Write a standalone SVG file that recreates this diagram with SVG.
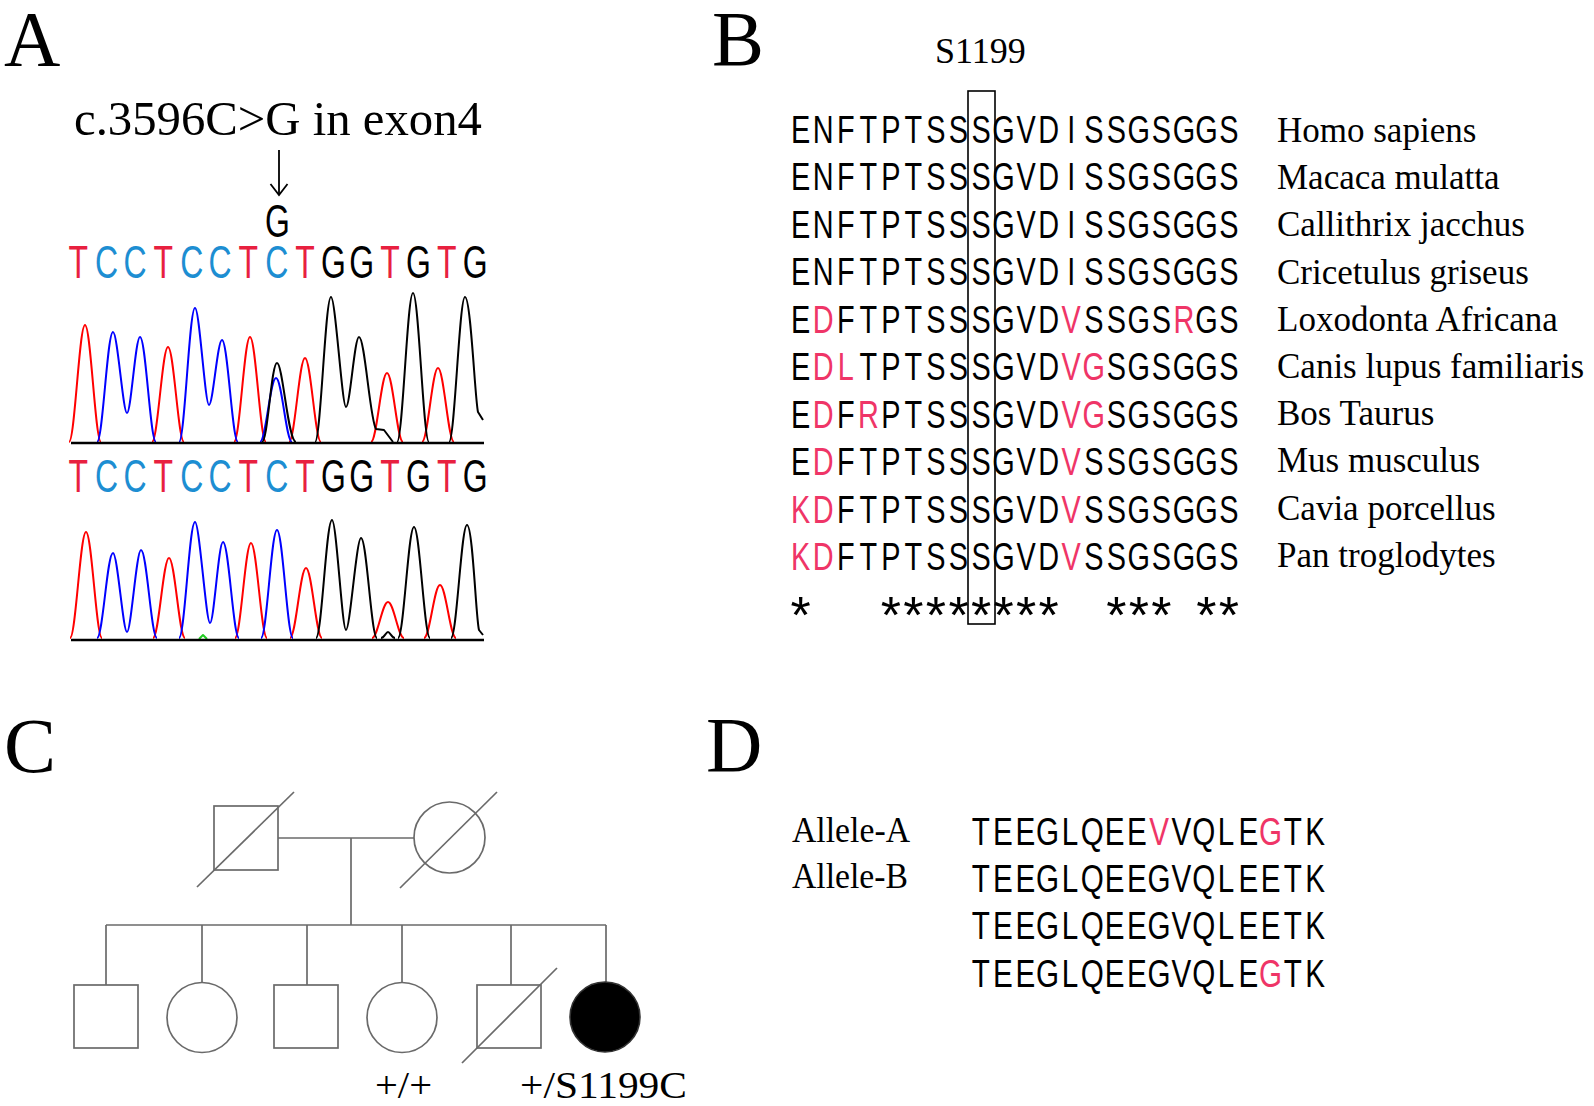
<svg xmlns="http://www.w3.org/2000/svg" width="1594" height="1106" viewBox="0 0 1594 1106">
<style>
.lbl{font-family:"Liberation Serif","Times New Roman",serif;font-size:78px;fill:#000}
.ser{font-family:"Liberation Serif","Times New Roman",serif;fill:#000}
.seq{font-family:"Liberation Sans",Arial,sans-serif;text-anchor:middle;fill:#000}
.rT{fill:#e8203f}.bC{fill:#1d8ed2}.pk{fill:#ef3567}
.tr{fill:none;stroke-width:2;stroke-linejoin:round}
.red{stroke:#ff0000}.blu{stroke:#0000ff}.blk{stroke:#000}
.ped{fill:none;stroke:#6a6a6a;stroke-width:1.7}
</style>
<rect width="1594" height="1106" fill="#fff"/>

<!-- Panel A -->
<g id="panelA">
<text class="lbl" x="4" y="65">A</text>
<text class="ser" x="74" y="135" font-size="48" textLength="408" lengthAdjust="spacingAndGlyphs">c.3596C&gt;G in exon4</text>
<g id="arrow" stroke="#000" stroke-width="1.8" fill="none">
<line x1="279" y1="150" x2="279" y2="194"/>
<polyline points="270.5,184 279,195 287.5,184"/>
</g>
<text class="seq" transform="scale(0.68,1)" x="408.1" y="237" font-size="47">G</text>
<text class="seq" transform="scale(0.68,1)" y="278" font-size="47" x="115.1 156.8 198.5 240.1 281.9 323.5 365.1 406.9 448.5 490.3 531.9 573.5 615.3 656.9 698.7"><tspan class="rT">T</tspan><tspan class="bC">CC</tspan><tspan class="rT">T</tspan><tspan class="bC">CC</tspan><tspan class="rT">T</tspan><tspan class="bC">C</tspan><tspan class="rT">T</tspan>GG<tspan class="rT">T</tspan>G<tspan class="rT">T</tspan>G</text>
<text class="seq" transform="scale(0.68,1)" y="492" font-size="47" x="115.1 156.8 198.5 240.1 281.9 323.5 365.1 406.9 448.5 490.3 531.9 573.5 615.3 656.9 698.7"><tspan class="rT">T</tspan><tspan class="bC">CC</tspan><tspan class="rT">T</tspan><tspan class="bC">CC</tspan><tspan class="rT">T</tspan><tspan class="bC">C</tspan><tspan class="rT">T</tspan>GG<tspan class="rT">T</tspan>G<tspan class="rT">T</tspan>G</text>

<g id="chromatogram-top">
<path class="tr red" d="M69,442 C74.8,442 79.2,325 85,325 C90.8,325 95.2,442 101,442"/>
<path class="tr red" d="M152,442 C157.8,442 162.2,347 168,347 C173.8,347 178.2,442 184,442"/>
<path class="tr red" d="M234,442 C239.8,442 244.2,337 250,337 C255.8,337 260.2,442 266,442"/>
<path class="tr red" d="M289,442 C294.8,442 299.2,358 305,358 C310.8,358 315.2,442 321,442"/>
<path class="tr red" d="M371,442 C376.8,442 381.2,373 387,373 C392.8,373 397.2,442 403,442"/>
<path class="tr red" d="M422,442 C427.8,442 432.2,368 438,368 C443.8,368 448.2,442 454,442"/>
<path class="tr blu" d="M97,442 C102.8,442 107.2,332 113,332 C117.5,332 123,413 127,413 C131,413 135.5,337 140,337 C145.8,337 150.2,442 156,442"/>
<path class="tr blu" d="M179,442 C184.8,442 189.2,308 195,308 C199.5,308 205,405 209,405 C213,405 217.5,340 222,340 C227.8,340 232.2,442 238,442"/>
<path class="tr blu" d="M260,442 C265.8,442 270.2,378 276,378 C281.8,378 286.2,442 292,442"/>
<path class="tr blk" d="M262,442 C267.8,442 271.2,363 277,363 C282.8,363 288,442 296,442"/>
<path class="tr blk" d="M315,442 C320.8,442 325.2,297 331,297 C335.5,297 342,407 346,407 C350,407 354.5,337 359,337 C364.8,337 370,420 376,429 L384,430 L393,442"/>
<path class="tr blk" d="M397,442 C402.8,442 407.2,293 413,293 C418.8,293 423.2,442 429,442"/>
<path class="tr blk" d="M449,442 C454.8,442 459.2,297 465,297 C470.8,297 475,400 478,412 L483,420"/>
<line x1="71" y1="443" x2="484" y2="443" stroke="#000" stroke-width="2.5"/>
</g>

<g id="chromatogram-bottom">
<path class="tr red" d="M70,638 C75.8,638 80.2,532 86,532 C91.8,532 96.2,638 102,638"/>
<path class="tr red" d="M153,638 C158.8,638 163.2,558 169,558 C174.8,558 179.2,638 185,638"/>
<path class="tr red" d="M235,638 C240.8,638 245.2,543 251,543 C256.8,543 261.2,638 267,638"/>
<path class="tr red" d="M290,638 C295.8,638 300.2,568 306,568 C311.8,568 316.2,638 322,638"/>
<path class="tr red" d="M372,638 C377.8,638 382.2,602 388,602 C393.8,602 398.2,638 404,638"/>
<path class="tr red" d="M424,638 C429.8,638 434.2,585 440,585 C445.8,585 450.2,638 456,638"/>
<path class="tr blu" d="M97,638 C102.8,638 107.2,553 113,553 C117.5,553 123,632 127,632 C131,632 136.5,550 141,550 C146.8,550 151.2,638 157,638"/>
<path class="tr blu" d="M179,638 C184.8,638 189.2,522 195,522 C199.5,522 206,623 210,623 C214,623 218.5,542 223,542 C228.8,542 233.2,638 239,638"/>
<path class="tr blu" d="M261,638 C266.8,638 271.2,530 277,530 C282.8,530 287.2,638 293,638"/>
<path class="tr blk" d="M316,638 C321.8,638 326.2,520 332,520 C336.5,520 342,630 346,630 C350,630 356.5,538 361,538 C366.8,538 371.2,638 377,638"/>
<path class="tr blk" d="M381,638 C384,638 386,632 388,632 C390,632 392,638 395,638"/>
<path class="tr blk" d="M398,638 C403.8,638 408.2,527 414,527 C419.8,527 424.2,638 430,638"/>
<path class="tr blk" d="M451,638 C456.8,638 461.2,525 467,525 C472.8,525 476,620 479,630 L483,635"/>
<path class="tr" stroke="#22cc22" stroke-width="1.5" d="M199,639 L203,635 L207,639"/>
<line x1="71" y1="640" x2="484" y2="640" stroke="#000" stroke-width="2.5"/>
</g>
</g>

<!-- Panel B -->
<g id="panelB">
<text class="lbl" x="712" y="65">B</text>
<text class="ser" x="935" y="63" font-size="36">S1199</text>
<rect x="968" y="91" width="27" height="533" fill="none" stroke="#000" stroke-width="1.6"/>
<g class="seq" font-size="38" transform="scale(0.76,1)">
<text y="143" x="1053.6 1083.2 1112.9 1142.6 1172.2 1201.9 1231.5 1261.2 1290.9 1320.5 1350.2 1379.8 1409.5 1439.2 1468.8 1498.5 1528.1 1557.8 1587.4 1617.1">ENFTPTSSSGVDISSGSGGS</text>
<text y="190.5" x="1053.6 1083.2 1112.9 1142.6 1172.2 1201.9 1231.5 1261.2 1290.9 1320.5 1350.2 1379.8 1409.5 1439.2 1468.8 1498.5 1528.1 1557.8 1587.4 1617.1">ENFTPTSSSGVDISSGSGGS</text>
<text y="238" x="1053.6 1083.2 1112.9 1142.6 1172.2 1201.9 1231.5 1261.2 1290.9 1320.5 1350.2 1379.8 1409.5 1439.2 1468.8 1498.5 1528.1 1557.8 1587.4 1617.1">ENFTPTSSSGVDISSGSGGS</text>
<text y="285.5" x="1053.6 1083.2 1112.9 1142.6 1172.2 1201.9 1231.5 1261.2 1290.9 1320.5 1350.2 1379.8 1409.5 1439.2 1468.8 1498.5 1528.1 1557.8 1587.4 1617.1">ENFTPTSSSGVDISSGSGGS</text>
<text y="333" x="1053.6 1083.2 1112.9 1142.6 1172.2 1201.9 1231.5 1261.2 1290.9 1320.5 1350.2 1379.8 1409.5 1439.2 1468.8 1498.5 1528.1 1557.8 1587.4 1617.1">E<tspan class="pk">D</tspan>FTPTSSSGVD<tspan class="pk">V</tspan>SSGS<tspan class="pk">R</tspan>GS</text>
<text y="380.5" x="1053.6 1083.2 1112.9 1142.6 1172.2 1201.9 1231.5 1261.2 1290.9 1320.5 1350.2 1379.8 1409.5 1439.2 1468.8 1498.5 1528.1 1557.8 1587.4 1617.1">E<tspan class="pk">DL</tspan>TPTSSSGVD<tspan class="pk">VG</tspan>SGSGGS</text>
<text y="428" x="1053.6 1083.2 1112.9 1142.6 1172.2 1201.9 1231.5 1261.2 1290.9 1320.5 1350.2 1379.8 1409.5 1439.2 1468.8 1498.5 1528.1 1557.8 1587.4 1617.1">E<tspan class="pk">D</tspan>F<tspan class="pk">R</tspan>PTSSSGVD<tspan class="pk">VG</tspan>SGSGGS</text>
<text y="475.5" x="1053.6 1083.2 1112.9 1142.6 1172.2 1201.9 1231.5 1261.2 1290.9 1320.5 1350.2 1379.8 1409.5 1439.2 1468.8 1498.5 1528.1 1557.8 1587.4 1617.1">E<tspan class="pk">D</tspan>FTPTSSSGVD<tspan class="pk">V</tspan>SSGSGGS</text>
<text y="523" x="1053.6 1083.2 1112.9 1142.6 1172.2 1201.9 1231.5 1261.2 1290.9 1320.5 1350.2 1379.8 1409.5 1439.2 1468.8 1498.5 1528.1 1557.8 1587.4 1617.1"><tspan class="pk">KD</tspan>FTPTSSSGVD<tspan class="pk">V</tspan>SSGSGGS</text>
<text y="570" x="1053.6 1083.2 1112.9 1142.6 1172.2 1201.9 1231.5 1261.2 1290.9 1320.5 1350.2 1379.8 1409.5 1439.2 1468.8 1498.5 1528.1 1557.8 1587.4 1617.1"><tspan class="pk">KD</tspan>FTPTSSSGVD<tspan class="pk">V</tspan>SSGSGGS</text>
</g>
<text class="seq" font-size="52" y="633" x="800.7 890.9 913.4 935.9 958.5 981.0 1003.6 1026.1 1048.6 1116.3 1138.8 1161.3 1206.4 1228.9">**************</text>
<g class="ser" font-size="35">
<text x="1277" y="142">Homo sapiens</text>
<text x="1277" y="189.2">Macaca mulatta</text>
<text x="1277" y="236.4">Callithrix jacchus</text>
<text x="1277" y="283.6">Cricetulus griseus</text>
<text x="1277" y="330.8">Loxodonta Africana</text>
<text x="1277" y="378">Canis lupus familiaris</text>
<text x="1277" y="425.2">Bos Taurus</text>
<text x="1277" y="472.4">Mus musculus</text>
<text x="1277" y="519.6">Cavia porcellus</text>
<text x="1277" y="566.8">Pan troglodytes</text>
</g>
</g>

<!-- Panel C -->
<g id="panelC">
<text class="lbl" x="4" y="772">C</text>
<g id="pedigree-connectors" class="ped">
<line x1="278" y1="838" x2="414" y2="838"/>
<line x1="351" y1="838" x2="351" y2="925"/>
<line x1="106" y1="925" x2="606" y2="925"/>
<line x1="106" y1="925" x2="106" y2="985"/>
<line x1="202" y1="925" x2="202" y2="982"/>
<line x1="307" y1="925" x2="307" y2="985"/>
<line x1="402" y1="925" x2="402" y2="982"/>
<line x1="511" y1="925" x2="511" y2="985"/>
<line x1="606" y1="925" x2="606" y2="982"/>
</g>
<g id="I-1" class="ped"><rect x="214" y="806" width="64" height="64"/><line x1="197" y1="887" x2="294" y2="792"/></g>
<g id="I-2" class="ped"><circle cx="449.5" cy="837.5" r="35.5"/><line x1="400" y1="888" x2="497" y2="792"/></g>
<g id="II-1" class="ped"><rect x="74" y="985" width="64" height="63"/></g>
<g id="II-2" class="ped"><circle cx="202" cy="1017.5" r="35"/></g>
<g id="II-3" class="ped"><rect x="274" y="985" width="64" height="63"/></g>
<g id="II-4"><circle class="ped" cx="402" cy="1017.5" r="35"/><text class="ser" x="375" y="1098" font-size="38" textLength="57" lengthAdjust="spacingAndGlyphs">+/+</text></g>
<g id="II-5" class="ped"><rect x="477" y="985" width="64" height="63"/><line x1="462" y1="1063" x2="557" y2="968"/></g>
<g id="II-6"><circle cx="605" cy="1017" r="35" fill="#000" stroke="#333" stroke-width="1.6"/><text class="ser" x="520" y="1098" font-size="38" textLength="167" lengthAdjust="spacingAndGlyphs">+/S1199C</text></g>
</g>

<!-- Panel D -->
<g id="panelD">
<text class="lbl" x="706" y="771">D</text>
<text class="ser" x="792" y="842" font-size="36" textLength="118" lengthAdjust="spacingAndGlyphs">Allele-A</text>
<text class="ser" x="792" y="888" font-size="36" textLength="116" lengthAdjust="spacingAndGlyphs">Allele-B</text>
<g class="seq" font-size="39" transform="scale(0.76,1)">
<text y="845" x="1290.4 1319.7 1349.1 1378.4 1407.8 1437.1 1466.5 1495.8 1525.1 1554.5 1583.8 1613.2 1642.5 1671.8 1701.2 1730.5">TEEGLQEE<tspan class="pk">V</tspan>VQLE<tspan class="pk">G</tspan>TK</text>
<text y="892" x="1290.4 1319.7 1349.1 1378.4 1407.8 1437.1 1466.5 1495.8 1525.1 1554.5 1583.8 1613.2 1642.5 1671.8 1701.2 1730.5">TEEGLQEEGVQLEETK</text>
<text y="939.5" x="1290.4 1319.7 1349.1 1378.4 1407.8 1437.1 1466.5 1495.8 1525.1 1554.5 1583.8 1613.2 1642.5 1671.8 1701.2 1730.5">TEEGLQEEGVQLEETK</text>
<text y="987" x="1290.4 1319.7 1349.1 1378.4 1407.8 1437.1 1466.5 1495.8 1525.1 1554.5 1583.8 1613.2 1642.5 1671.8 1701.2 1730.5">TEEGLQEEGVQLE<tspan class="pk">G</tspan>TK</text>
</g>
</g>
</svg>
